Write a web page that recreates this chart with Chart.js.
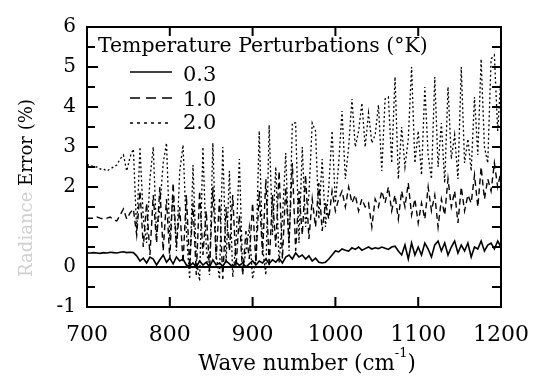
<!DOCTYPE html>
<html>
<head>
<meta charset="utf-8">
<script src="https://cdn.jsdelivr.net/npm/chart.js@4.4.0/dist/chart.umd.min.js"></script>
<style>
  html, body { margin: 0; padding: 0; background: #fff; }
</style>
</head>
<body>
<canvas id="chart" width="536" height="380"></canvas>
<script>
// wave numbers run 700..1200 cm-1 in steps of 4
const waveStart = 700;
const waveStep = 4;
const seriesLabels = ['0.3', '1.0', '2.0'];

// radiance error (%) for each temperature perturbation
const err03 = [
  0.35, 0.35, 0.36, 0.35, 0.34, 0.36, 0.35, 0.37, 0.36, 0.35, 0.37, 0.38, 0.36, 0.37, 0.36,
  0.28, 0.15, 0.22, 0.1, 0.25, 0.2, 0.05, 0.18, 0.3, 0.12, 0.22, 0.08, 0.25, 0.15, 0.2, 0.05,
  0.02, 0.1, 0.0, 0.15, 0.05, 0.12, 0.0, 0.18, 0.05, 0.1, 0.02, 0.15, 0.08, 0.0, 0.12, 0.04, 0.1, 0.0, 0.08, 0.15,
  0.05, 0.15, 0.1, 0.2, 0.08, 0.18, 0.12, 0.22, 0.1, 0.25, 0.3, 0.2, 0.35, 0.25, 0.3, 0.2, 0.28, 0.15, 0.22, 0.12,
  0.1, 0.12, 0.2, 0.3, 0.4, 0.38, 0.45, 0.42, 0.4, 0.48, 0.44, 0.5, 0.42, 0.46, 0.5,
  0.45, 0.48, 0.46, 0.5, 0.47, 0.44, 0.5, 0.52, 0.4, 0.3, 0.55, 0.2, 0.6, 0.3, 0.5,
  0.3, 0.6, 0.45, 0.25, 0.55, 0.65, 0.4, 0.6, 0.3, 0.5, 0.65, 0.35, 0.55, 0.4, 0.6, 0.25, 0.5, 0.45, 0.65, 0.4, 0.55, 0.6, 0.45, 0.65, 0.5
];
const err10 = [
  1.22, 1.22, 1.22, 1.25, 1.22, 1.2, 1.22, 1.25, 1.18, 1.15, 1.3, 1.45, 1.2, 1.35, 1.45,
  0.8, 1.9, 0.5, 1.6, 0.3, 1.8, 0.6, 2.0, 0.4, 1.7, 0.2, 2.1, 0.5, 1.5, 0.1, 1.8,
  0.0, 1.6, -0.2, 1.9, 0.3, 1.4, -0.1, 2.0, 0.2, 1.7, -0.3, 1.5, 0.4, 1.8, 0.0, 1.3, -0.2, 0.9, 0.2, 1.6,
  0.1, 1.9, 0.3, 2.2, 0.0, 1.8, 0.5, 2.4, 0.2, 2.0, 0.6, 2.6, 0.4, 1.9, 0.8, 2.3, 0.7, 1.7, 1.0, 2.1,
  0.9, 1.6, 1.2, 1.9, 1.4, 1.7, 1.9, 1.5, 2.0, 1.6, 1.8, 1.4, 1.7, 1.5, 1.6,
  1.0, 1.7, 1.5, 1.9, 1.6, 2.0, 1.4, 1.8, 1.2, 1.9, 1.5, 2.1, 1.3, 1.7, 1.1,
  1.6, 1.2, 2.0, 1.4, 1.8, 1.0, 1.7, 1.3, 2.2, 1.5, 1.9, 1.1, 2.0, 1.4, 1.8, 1.6, 2.3, 1.5, 2.5, 1.7, 2.2, 1.9, 2.6, 2.0, 2.4
];
const err20 = [
  2.55, 2.55, 2.5, 2.5, 2.45, 2.45, 2.4, 2.45, 2.5, 2.55, 2.7, 2.8, 2.4, 2.75, 2.95,
  0.9, 3.0, 1.2, 0.6, 2.2, 3.0, 0.8, 1.5, 2.6, 3.1, 0.7, 1.8, 0.4, 2.4, 3.05, 0.9,
  -0.3, 2.55, 0.2, -0.35, 3.0, 0.5, -0.2, 3.1, 0.3, -0.3, 3.0, 0.1, 2.4, -0.25, 0.6, 2.7, -0.1, 0.4, 1.0, -0.3,
  0.2, 3.4, 0.5, -0.2, 3.55, 0.8, 2.5, 0.1, 1.2, 2.85, 0.4, 3.6, 3.6, 0.6, 3.0, 1.0, 1.8, 3.6, 3.4, 1.2,
  2.7, 1.0, 2.0, 3.4, 1.6, 2.6, 3.9, 2.2, 3.0, 4.2, 3.0, 3.4, 4.1, 3.0, 3.85,
  3.1, 3.3, 4.05, 2.4, 4.2, 4.25, 2.6, 4.75, 2.2, 3.5, 2.5, 3.2, 5.0, 2.6, 3.4,
  2.3, 4.5, 2.8, 2.2, 4.75, 2.5, 3.6, 2.1, 4.5, 2.7, 3.3, 2.2, 5.0, 2.6, 3.2, 2.4, 4.25, 2.8, 5.2, 3.0, 2.6, 5.2, 5.3, 3.4, 4.8
];

const xTicks = [700, 800, 900, 1000, 1100, 1200];
const yTicks = [-1, 0, 1, 2, 3, 4, 5, 6];
const yTickLabels = ['-1', '0', '', '2', '3', '4', '5', '6'];

// only DejaVu Serif resolves to a serif face in this renderer
const serif = "'DejaVu Serif', serif";
Chart.defaults.font.family = serif;
Chart.defaults.color = '#000';

const waveNumbers = err03.map((_, i) => waveStart + i * waveStep);
const toPoints = arr => arr.map((v, i) => ({ x: waveNumbers[i], y: v }));

// pick a font size so a text spans the given width
function fitSize(ctx, text, width) {
  ctx.font = '20px ' + serif;
  return 20 * width / ctx.measureText(text).width;
}

// inward tick marks, axis titles and the in-plot legend
const decorations = {
  id: 'decorations',
  afterDraw(chart) {
    const { ctx, chartArea: a, scales: { x, y } } = chart;
    ctx.save();
    ctx.strokeStyle = '#000';
    ctx.lineWidth = 2;
    ctx.setLineDash([]);
    ctx.beginPath();
    for (let v = -1; v <= 6; v += 0.5) {
      const py = y.getPixelForValue(v);
      const len = Number.isInteger(v) ? 11 : 8;
      ctx.moveTo(a.left, py); ctx.lineTo(a.left + len, py);
      ctx.moveTo(a.right, py); ctx.lineTo(a.right - 9, py);
    }
    xTicks.slice(1, -1).forEach(v => {
      const px = x.getPixelForValue(v);
      ctx.moveTo(px, a.bottom); ctx.lineTo(px, a.bottom - 10);
      ctx.moveTo(px, a.top); ctx.lineTo(px, a.top + 9);
    });
    ctx.stroke();

    ctx.fillStyle = '#000';
    ctx.textBaseline = 'alphabetic';
    ctx.textAlign = 'left';
    // x axis title with superscript
    const p1 = 'Wave number (cm', p2 = '-1', p3 = ')';
    const xs = fitSize(ctx, p1 + p3, 205);
    const ss = Math.round(xs * 0.6);
    ctx.font = xs + 'px ' + serif;
    const w1 = ctx.measureText(p1).width, w3 = ctx.measureText(p3).width;
    ctx.font = ss + 'px ' + serif;
    const w2 = ctx.measureText(p2).width;
    const tx = 307 - (w1 + w2 + w3) / 2;
    ctx.font = xs + 'px ' + serif;
    ctx.fillText(p1, tx, 370);
    ctx.font = ss + 'px ' + serif;
    ctx.fillText(p2, tx + w1, 357);
    ctx.font = xs + 'px ' + serif;
    ctx.fillText(p3, tx + w1 + w2, 370);

    // y axis title, first word faded as in the scan
    ctx.save();
    ctx.translate(32, 188);
    ctx.rotate(-Math.PI / 2);
    const q1 = 'Radiance ', q2 = 'Error (%)';
    ctx.font = fitSize(ctx, q1 + q2, 178) + 'px ' + serif;
    const v1 = ctx.measureText(q1).width, v2 = ctx.measureText(q2).width;
    ctx.fillStyle = '#cfcfcf';
    ctx.fillText(q1, -(v1 + v2) / 2, 0);
    ctx.fillStyle = '#000';
    ctx.fillText(q2, -(v1 + v2) / 2 + v1, 0);
    ctx.restore();

    // legend
    const title = 'Temperature Perturbations (\u00b0K)';
    ctx.font = fitSize(ctx, title, 330) + 'px ' + serif;
    ctx.fillText(title, 98, 52);
    const dashes = [[], [10, 6], [3, 4]];
    const rows = [[72, 81], [98, 106], [123, 129]];
    seriesLabels.forEach((lab, i) => {
      ctx.setLineDash(dashes[i]);
      ctx.lineWidth = 1.6;
      ctx.beginPath();
      ctx.moveTo(130, rows[i][0]);
      ctx.lineTo(172, rows[i][0]);
      ctx.stroke();
      ctx.font = '21px ' + serif;
      ctx.fillText(lab, 183, rows[i][1]);
    });
    ctx.restore();
  }
};

const lineStyle = { borderColor: '#000', borderWidth: 1.4, pointRadius: 0, tension: 0, fill: false };

new Chart(document.getElementById('chart'), {
  type: 'line',
  data: {
    datasets: [
      { label: seriesLabels[0], data: toPoints(err03), ...lineStyle, borderWidth: 1.6 },
      { label: seriesLabels[1], data: toPoints(err10), ...lineStyle, borderDash: [6, 4] },
      { label: seriesLabels[2], data: toPoints(err20), ...lineStyle, borderDash: [2, 2.5], borderWidth: 1.3 }
    ]
  },
  options: {
    responsive: false,
    animation: false,
    layout: { padding: { top: 27, right: 27, left: 0, bottom: 0 } },
    plugins: { legend: { display: false }, tooltip: { enabled: false } },
    scales: {
      x: {
        type: 'linear', position: 'bottom', min: 700, max: 1200,
        afterBuildTicks: s => { s.ticks = xTicks.map(v => ({ value: v })); },
        afterFit: s => { s.height = 73; },
        ticks: {
          color: '#000', font: { family: serif, size: 22 }, padding: 7, maxRotation: 0,
          callback: v => String(v)
        },
        grid: { display: false },
        border: { display: true, color: '#000', width: 2 }
      },
      y: {
        min: -1, max: 6,
        afterBuildTicks: s => { s.ticks = yTicks.map(v => ({ value: v })); },
        afterFit: s => { s.width = 87; },
        ticks: {
          color: '#000', font: { family: serif, size: 20 }, padding: 11,
          callback: v => yTickLabels[yTicks.indexOf(v)]
        },
        grid: {
          drawTicks: false, lineWidth: 2,
          color: c => (c.tick && c.tick.value === 0 ? '#000' : 'rgba(0,0,0,0)')
        },
        border: { display: true, color: '#000', width: 2 }
      },
      x2: {
        type: 'linear', position: 'top', min: 700, max: 1200,
        afterFit: s => { s.height = 0; },
        ticks: { display: false }, grid: { display: false },
        border: { display: true, color: '#000', width: 2 }
      },
      y2: {
        position: 'right', min: -1, max: 6,
        afterFit: s => { s.width = 0; },
        ticks: { display: false }, grid: { display: false },
        border: { display: true, color: '#000', width: 2 }
      }
    }
  },
  plugins: [decorations]
});
</script>
</body>
</html>
